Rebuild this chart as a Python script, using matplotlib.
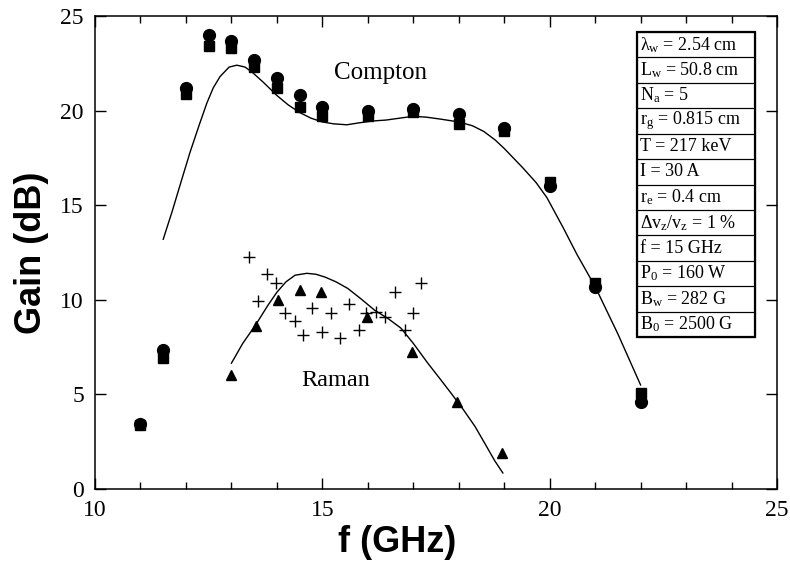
import numpy as np
import matplotlib.pyplot as plt
from matplotlib.patches import Rectangle

plt.rcParams['font.family'] = 'Liberation Serif'
plt.rcParams['mathtext.fontset'] = 'custom'
plt.rcParams['mathtext.rm'] = 'Liberation Serif'
plt.rcParams['mathtext.it'] = 'Liberation Serif:italic'

# Compton regime: measured gain (two runs) and theory curve
f_compton = [11, 11.5, 12, 12.5, 13, 13.5, 14, 14.5, 15, 16, 17, 18, 19, 20, 21, 22]
gain_circ = [3.45, 7.35, 21.2, 24.0, 23.7, 22.7, 21.7, 20.8, 20.2, 20.0, 20.1, 19.8, 19.1, 16.0, 10.7, 4.6]
gain_sq = [3.4, 6.9, 20.9, 23.4, 23.3, 22.3, 21.2, 20.2, 19.7, 19.7, 19.9, 19.3, 18.9, 16.2, 10.9, 5.1]

f_comp_th = [11.5, 11.7, 11.9, 12.09, 12.3, 12.46, 12.6, 12.75, 12.95, 13.12, 13.3, 13.47,
             13.7, 14.0, 14.25, 14.5, 14.75, 15.0, 15.25, 15.54, 15.8, 16.1, 16.4, 16.7,
             17.0, 17.3, 17.6, 18.0, 18.3, 18.55, 18.8, 19.0, 19.4, 19.7, 19.94, 20.3, 20.6,
             21.0, 21.5, 22.0]
g_comp_th = [13.2, 14.7, 16.3, 17.8, 19.3, 20.4, 21.2, 21.8, 22.3, 22.4, 22.3, 22.0,
             21.5, 20.8, 20.3, 19.9, 19.6, 19.4, 19.3, 19.25, 19.35, 19.45, 19.5, 19.6,
             19.7, 19.65, 19.55, 19.4, 19.2, 18.9, 18.45, 18.0, 17.0, 16.2, 15.4, 13.8, 12.4,
             10.7, 8.2, 5.5]

# Raman regime
f_raman = [13.0, 13.54, 14.02, 14.5, 14.97, 15.98, 16.97, 17.96, 18.95]
gain_tri = [6.0, 8.6, 10.0, 10.5, 10.4, 9.1, 7.25, 4.6, 1.9]

f_cross = [13.39, 13.78, 13.98, 13.58, 14.18, 14.4, 14.57, 14.77, 14.99, 15.19,
           15.39, 15.59, 15.8, 15.96, 16.18, 16.38, 16.6, 16.82, 16.99, 17.17]
gain_cross = [12.25, 11.35, 10.9, 9.95, 9.3, 8.9, 8.15, 9.55, 8.3, 9.3,
              8.0, 9.8, 8.4, 9.3, 9.35, 9.1, 10.4, 8.4, 9.3, 10.9]

f_ram_th = [13.0, 13.25, 13.54, 13.8, 14.0, 14.2, 14.4, 14.66, 14.86, 15.06, 15.3,
            15.56, 15.85, 16.15, 16.45, 16.73, 17.0, 17.32, 17.58, 17.83, 18.1,
            18.36, 18.6, 18.79, 18.97]
g_ram_th = [6.65, 7.7, 8.7, 9.7, 10.4, 10.95, 11.3, 11.4, 11.35, 11.2, 10.95,
            10.6, 10.05, 9.45, 9.0, 8.5, 7.7, 6.65, 5.85, 5.07, 4.2,
            3.3, 2.3, 1.5, 0.85]

params = ['λ$_\\mathrm{w}$ = 2.54 cm', r'L$_\mathrm{w}$ = 50.8 cm', r'N$_\mathrm{a}$ = 5',
          r'r$_\mathrm{g}$ = 0.815 cm', 'T = 217 keV', 'I = 30 A', r'r$_\mathrm{e}$ = 0.4 cm',
          'Δv$_\\mathrm{z}$/v$_\\mathrm{z}$ = 1 %', 'f = 15 GHz', r'P$_0$ = 160 W',
          r'B$_\mathrm{w}$ = 282 G', r'B$_0$ = 2500 G']

fig = plt.figure(figsize=(7.9, 5.61), dpi=100)
ax = fig.add_axes([0.1203, 0.1283, 0.8632, 0.8432])

ax.plot(f_comp_th, g_comp_th, color='black', lw=1.0)
ax.plot(f_ram_th, g_ram_th, color='black', lw=1.0)
ax.plot(f_compton, gain_sq, 's', color='black', ms=7.5)
ax.plot(f_compton, gain_circ, 'o', color='black', ms=8.5)
ax.plot(f_raman, gain_tri, '^', color='black', ms=7.5)
ax.plot(f_cross, gain_cross, '+', color='black', ms=9, mew=1.0)

ax.text(16.27, 22.0, 'Compton', fontsize=18, ha='center', va='center')
ax.text(15.3, 5.76, 'Raman', fontsize=17.5, ha='center', va='center')

# parameter table
x0, x1 = 21.92, 24.52
y_top, y_bot = 24.15, 8.03
row_h = (y_top - y_bot) / len(params)
for i, s in enumerate(params):
    yb = y_top - (i + 1) * row_h
    ax.add_patch(Rectangle((x0, yb), x1 - x0, row_h, fill=False, lw=0.8, ec='black', zorder=3))
    ax.text(x0 + 0.06, yb + row_h / 2, s, fontsize=13, va='center', ha='left', zorder=4)
ax.add_patch(Rectangle((x0, y_bot), x1 - x0, y_top - y_bot, fill=False, lw=1.6, ec='black', zorder=4))

ax.set_xlim(10, 25)
ax.set_ylim(0, 25)
ax.set_xticks([10, 15, 20, 25])
ax.set_xticks(np.arange(10, 26, 1), minor=True)
ax.set_yticks([0, 5, 10, 15, 20, 25])
ax.tick_params(which='both', direction='in', top=True, right=True, labelsize=17, width=1.0)
ax.tick_params(which='major', length=8, pad=8)
ax.tick_params(which='minor', length=5)
for sp in ax.spines.values():
    sp.set_linewidth(1.1)

ax.set_xlabel('f (GHz)', family='Liberation Sans', fontweight='bold', fontsize=26, labelpad=2)
ax.xaxis.set_label_coords(0.443, -0.075, transform=ax.transAxes)
ax.set_ylabel('Gain (dB)', family='Liberation Sans', fontweight='bold', fontsize=26, labelpad=8)

fig.savefig('out.png', dpi=100)
